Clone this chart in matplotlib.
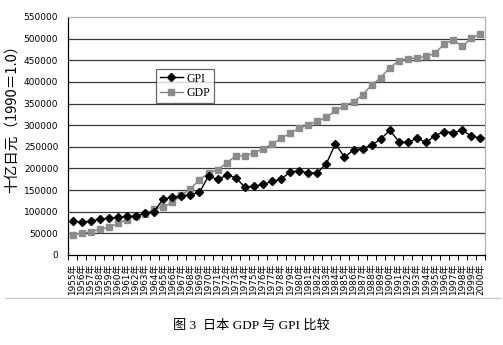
import matplotlib
matplotlib.use("Agg")
import matplotlib.pyplot as plt
import numpy as np
from matplotlib.lines import Line2D

years = list(range(1955, 2001))
year_labels = [f"{y}年" for y in years]

gpi = [78000, 76000, 78000, 83000, 85000, 87000, 89000, 90000, 96000, 100000,
       130000, 133000, 137000, 139000, 145000, 182000, 175000, 184000, 179000, 157000,
       159000, 163000, 170000, 175000, 192000, 194000, 190000, 190000, 211000, 257000,
       226000, 243000, 246000, 254000, 268000, 288000, 262000, 260000, 270000, 260000,
       276000, 285000, 283000, 288000, 275000, 270000]

gdp = [47000, 50000, 54000, 59000, 64000, 73000, 82000, 89000, 95000, 106000,
       111000, 122000, 138000, 153000, 174000, 189000, 197000, 213000, 229000, 229000,
       236000, 245000, 256000, 270000, 281000, 293000, 301000, 309000, 318000, 334000,
       345000, 354000, 370000, 393000, 410000, 433000, 449000, 454000, 455000, 459000,
       466000, 488000, 497000, 482000, 501000, 511000]

yticks = list(range(0, 550001, 50000))

plt.rcParams['font.family'] = ['DejaVu Sans', 'Noto Sans CJK SC']

fig = plt.figure(figsize=(5.03, 3.45), dpi=100)
ax = fig.add_axes([68/503, 1 - 255/345, (485 - 68)/503, (255 - 17)/345])

x = np.arange(len(years))
ax.plot(x, gdp, color='#808080', lw=1.0, marker='s', ms=4.4,
        mfc='#8c8c8c', mec='#8c8c8c', label='GDP', zorder=3)
ax.plot(x, gpi, color='black', lw=1.0, marker='D', ms=4.0,
        mfc='black', mec='black', label='GPI', zorder=4)

ax.set_xlim(-0.5, len(years) - 0.5)
ax.set_ylim(0, 550000)
ax.set_yticks(yticks)
ax.set_yticklabels([str(v) for v in yticks], fontsize=6.5)
for v in yticks[1:-1]:
    ax.axhline(v, color='#3a3a3a', lw=0.9, zorder=1)

ax.set_xticks(x)
ax.set_xticklabels(year_labels, rotation=90, fontsize=6.4,
                   family=['DejaVu Sans', 'Noto Sans CJK SC'])
ax.tick_params(axis='x', which='major', length=0, pad=6)
ax.set_xticks(np.arange(-0.5, len(years), 1.0), minor=True)
ax.tick_params(axis='x', which='minor', length=3.5, width=0.7, color='black', direction='out')
ax.tick_params(axis='y', length=0, pad=7)

ax.spines['left'].set_color('black')
ax.spines['left'].set_linewidth(0.9)
ax.spines['bottom'].set_color('black')
ax.spines['bottom'].set_linewidth(0.9)
ax.spines['top'].set_color('#b0b0b0')
ax.spines['right'].set_color('#b0b0b0')
ax.spines['top'].set_linewidth(0.9)
ax.spines['right'].set_linewidth(0.9)

fig.text(12/503, 1 - 115/345, '十亿日元（1990＝1.0）', rotation=90,
         ha='center', va='center', fontsize=10.5,
         family=['Noto Sans CJK SC', 'DejaVu Sans'])

handles = [Line2D([], [], color='black', lw=1.0, marker='D', ms=4.0),
           Line2D([], [], color='#808080', lw=1.0, marker='s', ms=4.4,
                  mfc='#8c8c8c', mec='#8c8c8c')]
leg = ax.legend(handles, ['GPI', 'GDP'], loc='upper left',
                bbox_to_anchor=((156 - 68)/417, (255 - 69)/238),
                borderaxespad=0, frameon=True, fancybox=False,
                prop={'family': 'Liberation Serif', 'size': 8.5},
                handlelength=2.0, handletextpad=0.3, labelspacing=0.25,
                borderpad=0.3)
leg.get_frame().set_edgecolor('#404040')
leg.get_frame().set_linewidth(0.9)

# chart border bottom edge
fig.add_artist(Line2D([5/503, 500/503], [1 - 298/345, 1 - 298/345],
                      transform=fig.transFigure, color='#c8c8c8', lw=0.9))

fig.text(0.5, 1 - 326/345, '图 3  日本 GDP 与 GPI 比较', ha='center', va='center',
         fontsize=9.5, family=['Liberation Serif', 'Noto Sans CJK SC'])

fig.savefig('out.png', dpi=100)
